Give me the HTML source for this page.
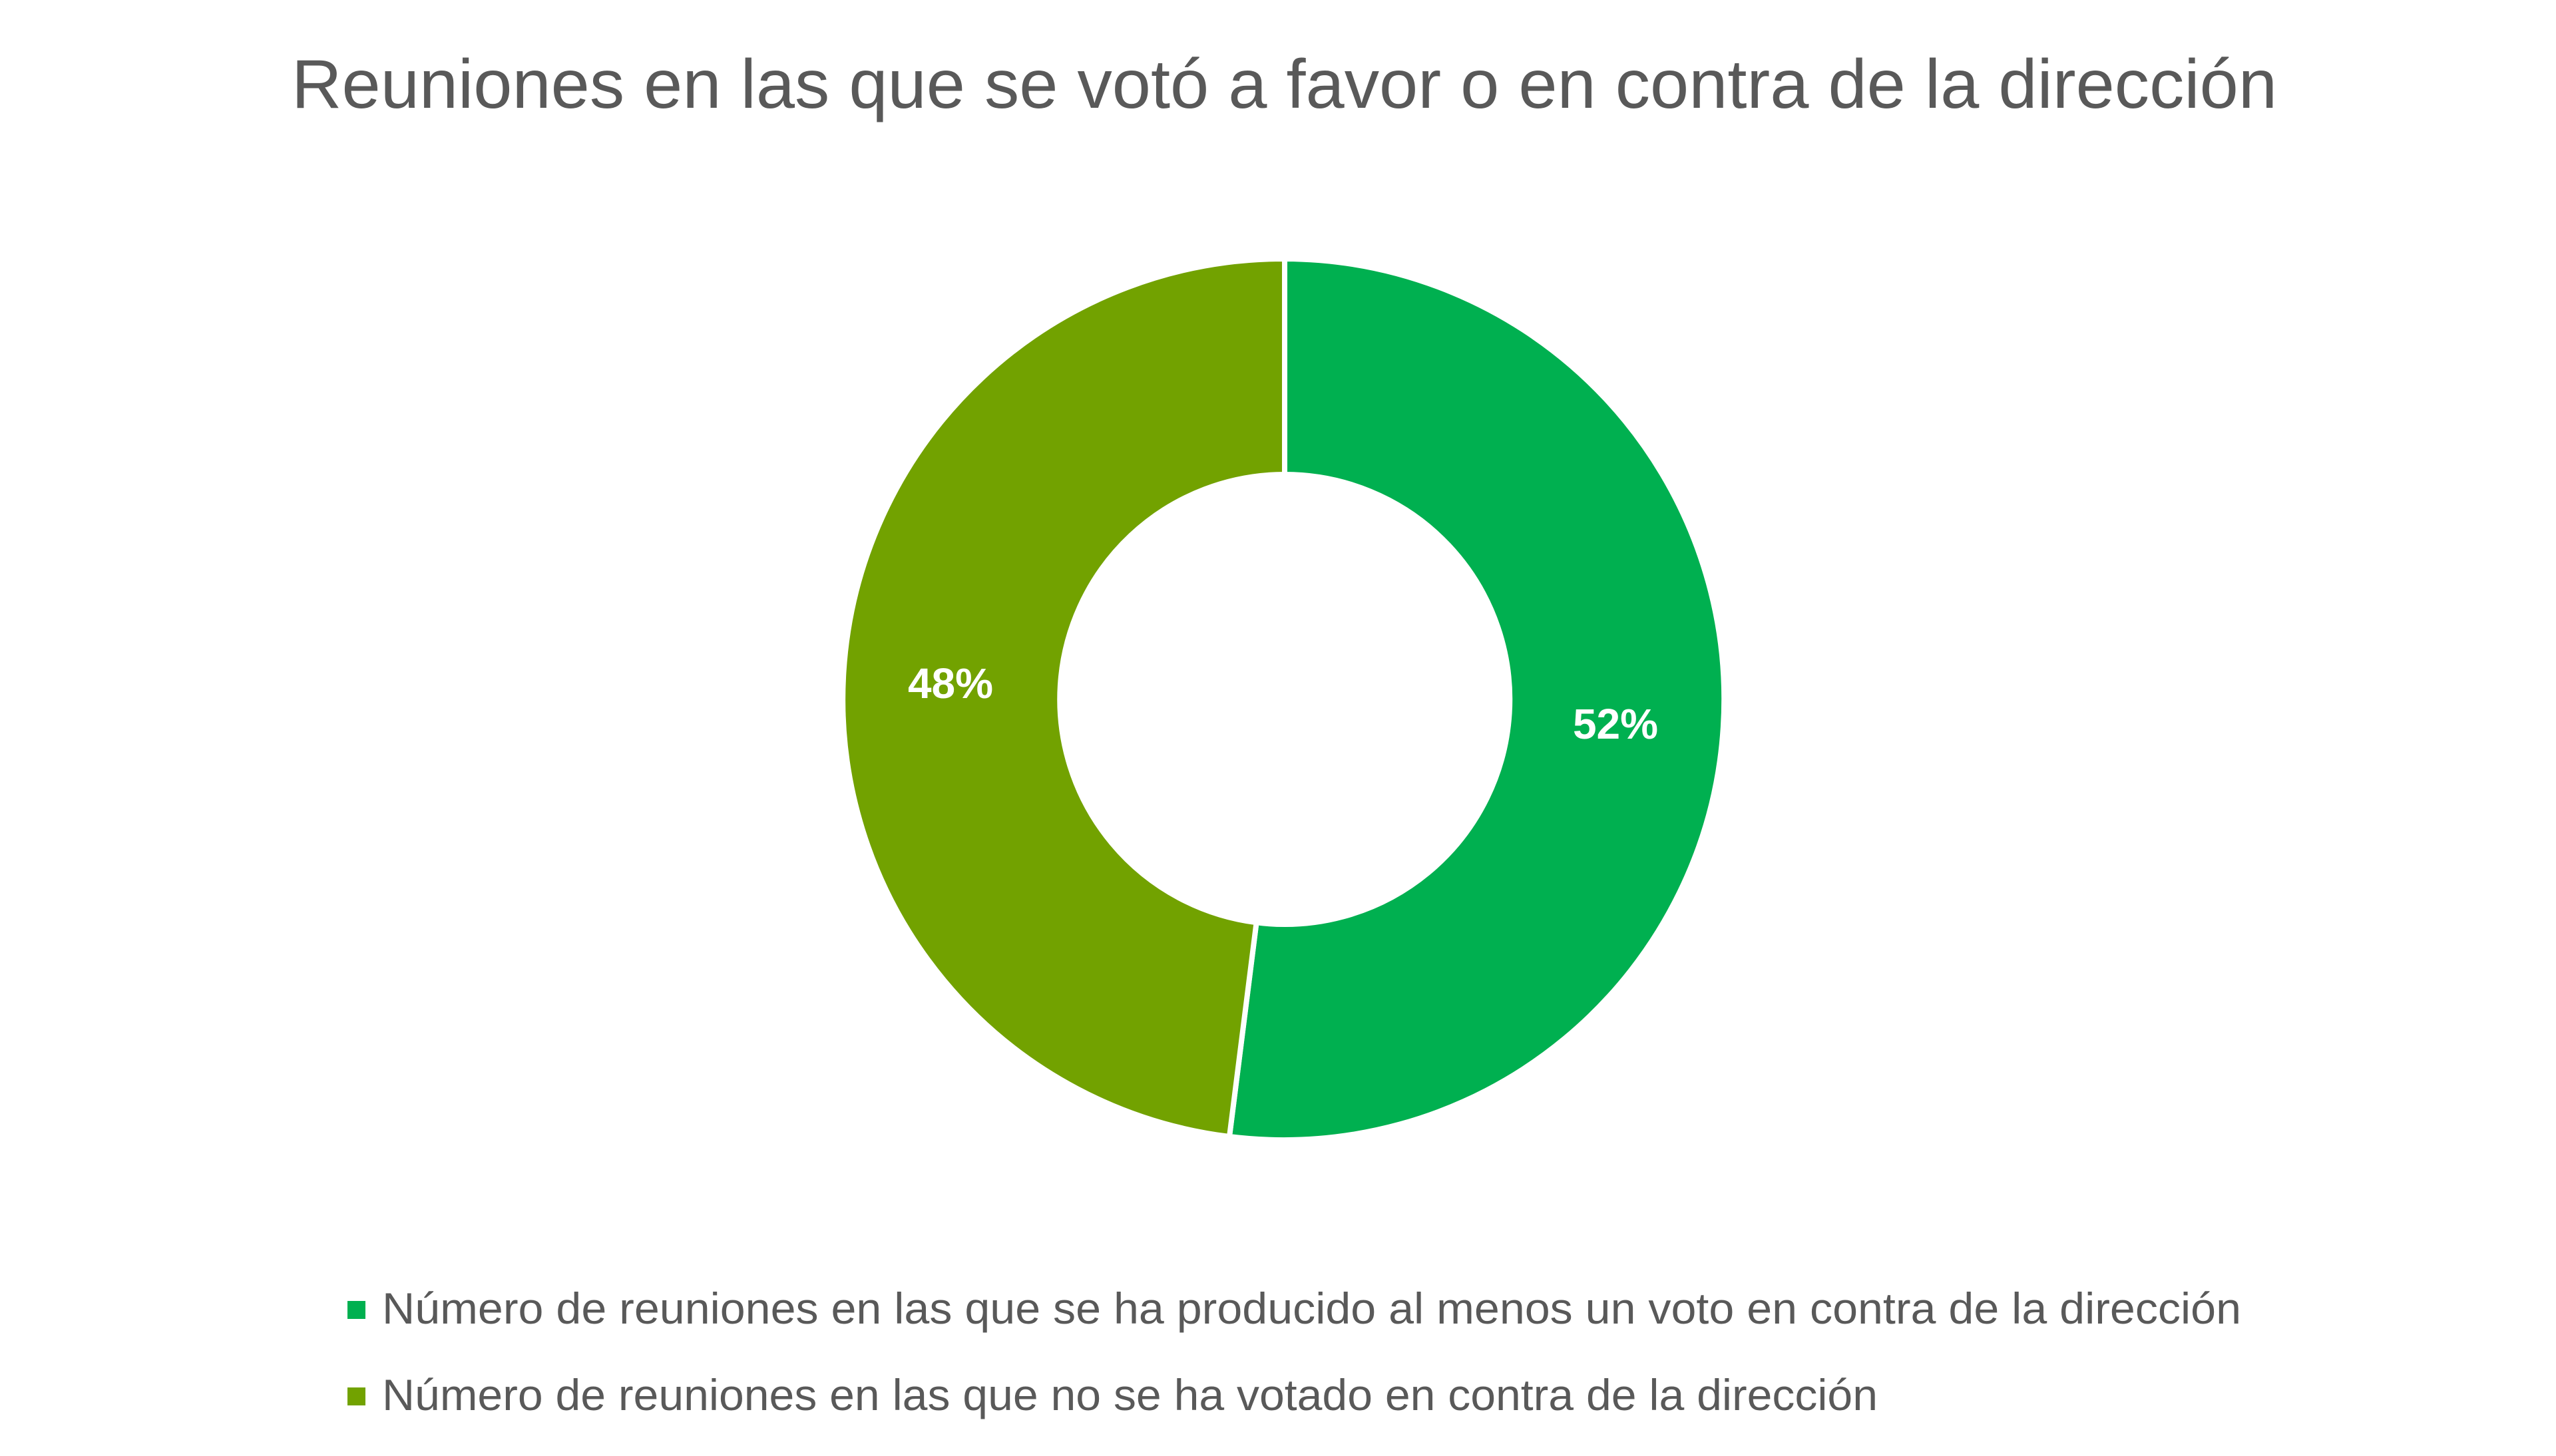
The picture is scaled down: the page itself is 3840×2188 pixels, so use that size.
<!DOCTYPE html>
<html><head><meta charset="utf-8"><style>
html,body{margin:0;padding:0;background:#fff;}
svg{display:block;}
text{font-family:"Liberation Sans",sans-serif;}
</style></head><body>
<svg width="3840" height="2188" viewBox="0 0 3840 2188" xmlns="http://www.w3.org/2000/svg">
<rect width="3840" height="2188" fill="#fff"/>
<text x="438" y="162" font-size="104" fill="#595959" textLength="2983" lengthAdjust="spacingAndGlyphs">Reuniones en las que se votó a favor o en contra de la dirección</text>
<path d="M1930,389 A662,662 0 1 1 1847,1708 L1887.6,1386.3 A338,338 0 1 0 1930,713 Z" fill="#00B050" stroke="#fff" stroke-width="8" stroke-linejoin="round"/>
<path d="M1847,1708 A662,662 0 0 1 1930,389 L1930,713 A338,338 0 0 0 1887.6,1386.3 Z" fill="#72A200" stroke="#fff" stroke-width="8" stroke-linejoin="round"/>
<text x="2427" y="1110" font-size="64" font-weight="bold" fill="#fff" text-anchor="middle">52%</text>
<text x="1428" y="1049" font-size="64" font-weight="bold" fill="#fff" text-anchor="middle">48%</text>
<rect x="522" y="1955" width="27" height="27" fill="#00B050"/>
<text x="574" y="1989" font-size="66" fill="#595959" textLength="2793" lengthAdjust="spacingAndGlyphs">Número de reuniones en las que se ha producido al menos un voto en contra de la dirección</text>
<rect x="522" y="2085" width="27" height="27" fill="#72A200"/>
<text x="574" y="2119" font-size="66" fill="#595959" textLength="2247" lengthAdjust="spacingAndGlyphs">Número de reuniones en las que no se ha votado en contra de la dirección</text>
</svg>
</body></html>
